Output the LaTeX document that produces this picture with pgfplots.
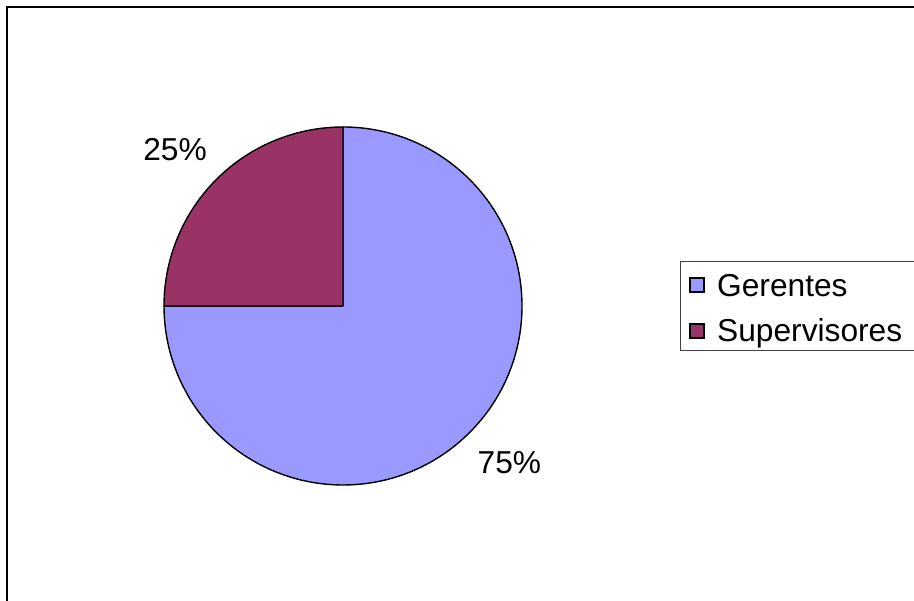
\documentclass[border=0pt]{standalone}
\usepackage{fontspec}
\setmainfont{Liberation Sans}
\usepackage{pgfplots}
\usepackage{pgfplotstable}
\pgfplotsset{compat=1.18}
\definecolor{gerentes}{HTML}{9999FF}
\definecolor{superv}{HTML}{993366}
\pgfplotstableread{
label value
Gerentes 75
Supervisores 25
}\piedata
\begin{document}
\begin{tikzpicture}
\path[use as bounding box] (0,0) rectangle (914pt,601pt);
\pgfplotstablegetelem{0}{value}\of\piedata \let\vA\pgfplotsretval
\pgfplotstablegetelem{1}{value}\of\piedata \let\vB\pgfplotsretval
\pgfmathsetmacro{\aA}{90-3.6*\vA}
\pgfmathsetmacro{\aB}{\aA-3.6*\vB}
\pgfmathsetmacro{\mA}{90-1.8*\vA}
\pgfmathsetmacro{\mB}{\aA-1.8*\vB}
\begin{axis}[at={(0,0)}, anchor=south west, width=914pt, height=601pt,
  scale only axis, xmin=0, xmax=914, ymin=0, ymax=601, hide axis, clip=true]
% outer frame
\draw[line width=1.6pt] (axis cs:7,-30) -- (axis cs:7,594) -- (axis cs:940,594);
% pie
\filldraw[fill=gerentes, draw=black, line width=1.4pt, line join=round]
  (axis cs:343,295) -- ++(90:179pt) arc[start angle=90, end angle=\aA, radius=179pt] -- cycle;
\filldraw[fill=superv, draw=black, line width=1.4pt, line join=round]
  (axis cs:343,295) -- ++(\aA:179pt) arc[start angle=\aA, end angle=\aB, radius=179pt] -- cycle;
% slice labels
\node[font=\fontsize{31.7}{38}\selectfont, inner sep=0pt] at ([shift={(\mA:229pt)},xshift=4.5pt,yshift=5.5pt]axis cs:343,295) {\vA\%};
\node[font=\fontsize{31.7}{38}\selectfont, inner sep=0pt] at ([shift={(\mB:229pt)},xshift=-6pt,yshift=-5.5pt]axis cs:343,295) {\vB\%};
% legend
\draw[line width=1pt, draw=black!75] (axis cs:680,250) rectangle (axis cs:940,339);
\filldraw[fill=gerentes, draw=black, line width=1.5pt] (axis cs:690,309) rectangle (axis cs:704,323);
\filldraw[fill=superv, draw=black, line width=1.5pt] (axis cs:690,263) rectangle (axis cs:704,277);
\node[font=\fontsize{31.7}{38}\selectfont, inner sep=0pt, anchor=base west] at (axis cs:717,304) {Gerentes};
\node[font=\fontsize{31.7}{38}\selectfont, inner sep=0pt, anchor=base west] at (axis cs:717,259) {Supervisores};
\end{axis}
\end{tikzpicture}
\end{document}
